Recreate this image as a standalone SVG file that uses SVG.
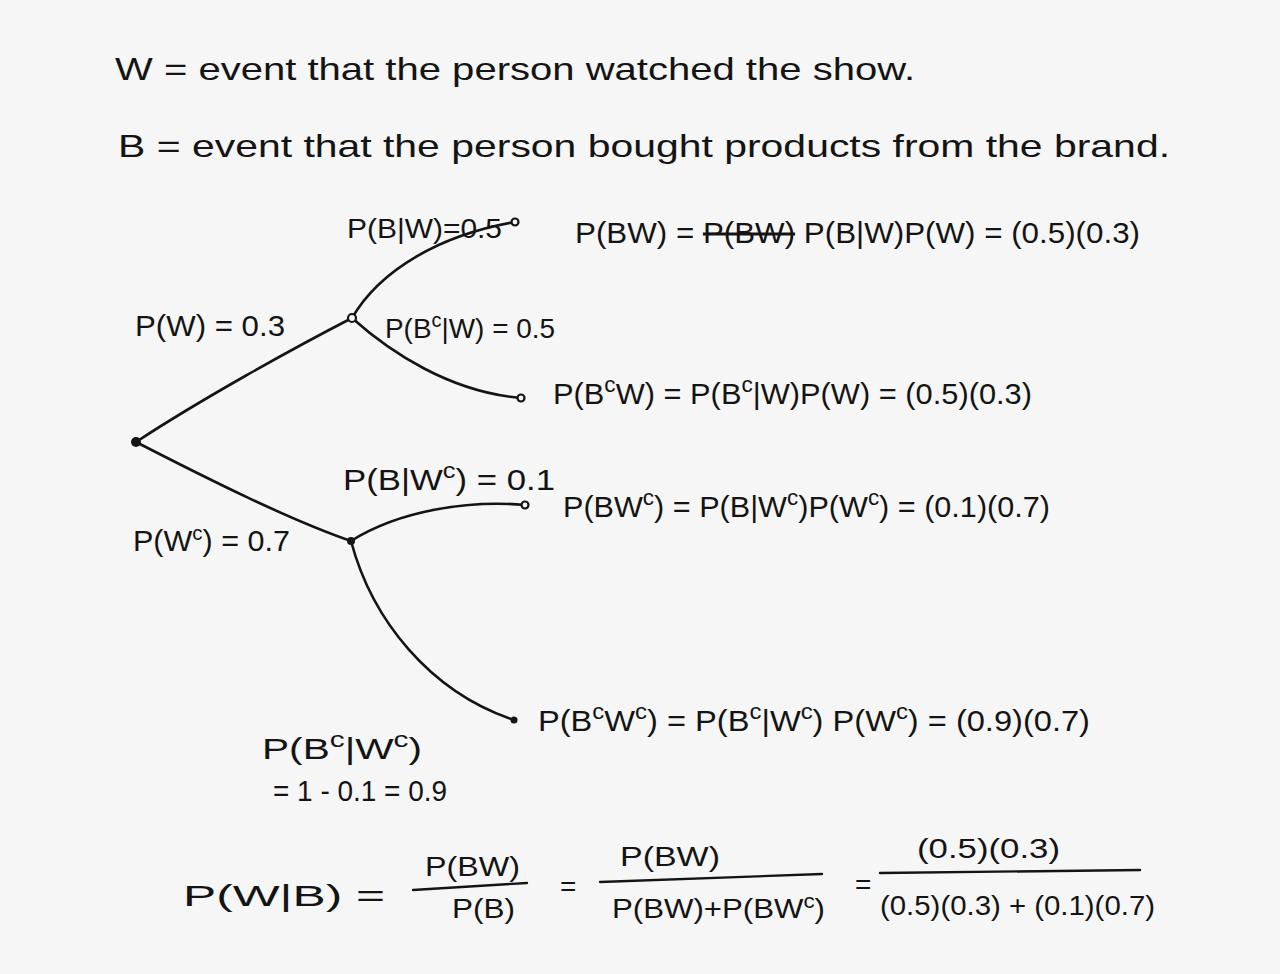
<svg xmlns="http://www.w3.org/2000/svg" width="1280" height="974" viewBox="0 0 1280 974">
<style>
text{font-family:"Liberation Sans","DejaVu Sans",sans-serif;fill:#141414;font-size:30px}
.h{font-size:32px}
.s{font-size:28px}
.e{fill:none;stroke:#141414;stroke-width:2.6;stroke-linecap:round}
.dot{fill:#141414}
.hol{fill:#f6f6f6;stroke:#141414;stroke-width:2.2}
.bar{stroke:#141414;stroke-width:2.4;stroke-linecap:round}
</style>
<rect width="1280" height="974" fill="#f6f6f6"/>
<g id="definitions">
<text class="h" x="115" y="80" textLength="800" lengthAdjust="spacingAndGlyphs">W = event that the person watched the show.</text>
<text class="h" x="118" y="157" textLength="1052" lengthAdjust="spacingAndGlyphs">B = event that the person bought products from the brand.</text>
</g>
<g id="connectors">
<path class="e" d="M136,442 C200,400 290,350 352,318"/>
<path class="e" d="M352,318 C380,270 440,235 515,222"/>
<path class="e" d="M352,318 C390,352 450,392 521,398"/>
<path class="e" d="M136,442 C210,480 290,520 351,541"/>
<path class="e" d="M351,541 C400,510 470,500 525,505"/>
<path class="e" d="M351,541 C372,620 430,692 514,720"/>
</g>
<g id="root"><circle class="dot" cx="136" cy="442" r="5"/></g>
<g id="node-W"><circle class="hol" cx="352" cy="318" r="4"/>
<text x="135" y="336" textLength="150" lengthAdjust="spacingAndGlyphs">P(W) = 0.3</text></g>
<g id="node-Wc"><circle class="dot" cx="351" cy="541" r="4"/>
<text x="133" y="551" textLength="157" lengthAdjust="spacingAndGlyphs">P(W<tspan dy="-11" font-size="20">c</tspan><tspan dy="11">) = 0.7</tspan></text></g>
<g id="leaf-BW"><circle class="hol" cx="515" cy="222" r="3.5"/>
<text class="s" x="347" y="238" textLength="155" lengthAdjust="spacingAndGlyphs">P(B|W)=0.5</text>
<text x="575" y="243" textLength="565" lengthAdjust="spacingAndGlyphs">P(BW) = <tspan text-decoration="line-through">P(BW)</tspan> P(B|W)P(W) = (0.5)(0.3)</text></g>
<g id="leaf-BcW"><circle class="hol" cx="521" cy="398" r="3.5"/>
<text class="s" x="385" y="338" textLength="170" lengthAdjust="spacingAndGlyphs">P(B<tspan dy="-11" font-size="20">c</tspan><tspan dy="11">|W) = 0.5</tspan></text>
<text x="553" y="404" textLength="479" lengthAdjust="spacingAndGlyphs">P(B<tspan dy="-12" font-size="22">c</tspan><tspan dy="12">W) = P(B</tspan><tspan dy="-12" font-size="22">c</tspan><tspan dy="12">|W)P(W) = (0.5)(0.3)</tspan></text></g>
<g id="leaf-BWc"><circle class="hol" cx="525" cy="505" r="3.5"/>
<text x="343" y="490" textLength="212" lengthAdjust="spacingAndGlyphs">P(B|W<tspan dy="-12" font-size="22">c</tspan><tspan dy="12">) = 0.1</tspan></text>
<text x="563" y="517" textLength="487" lengthAdjust="spacingAndGlyphs">P(BW<tspan dy="-12" font-size="22">c</tspan><tspan dy="12">) = P(B|W</tspan><tspan dy="-12" font-size="22">c</tspan><tspan dy="12">)P(W</tspan><tspan dy="-12" font-size="22">c</tspan><tspan dy="12">) = (0.1)(0.7)</tspan></text></g>
<g id="leaf-BcWc"><circle class="dot" cx="514" cy="720" r="3.5"/>
<text x="538" y="731" textLength="552" lengthAdjust="spacingAndGlyphs">P(B<tspan dy="-12" font-size="22">c</tspan><tspan dy="12">W</tspan><tspan dy="-12" font-size="22">c</tspan><tspan dy="12">) = P(B</tspan><tspan dy="-12" font-size="22">c</tspan><tspan dy="12">|W</tspan><tspan dy="-12" font-size="22">c</tspan><tspan dy="12">) P(W</tspan><tspan dy="-12" font-size="22">c</tspan><tspan dy="12">) = (0.9)(0.7)</tspan></text>
<text x="262" y="759" textLength="160" lengthAdjust="spacingAndGlyphs">P(B<tspan dy="-12" font-size="22">c</tspan><tspan dy="12">|W</tspan><tspan dy="-12" font-size="22">c</tspan><tspan dy="12">)</tspan></text>
<text x="273" y="801" textLength="174" lengthAdjust="spacingAndGlyphs">= 1 - 0.1 = 0.9</text></g>
<g id="bayes">
<text x="183" y="906" textLength="202" lengthAdjust="spacingAndGlyphs">P(W|B)  =</text>
<text class="s" x="425" y="876" textLength="95" lengthAdjust="spacingAndGlyphs">P(BW)</text>
<line class="bar" x1="413" y1="890" x2="527" y2="883"/>
<text class="s" x="452" y="918" textLength="63" lengthAdjust="spacingAndGlyphs">P(B)</text>
<text class="s" x="560" y="896">=</text>
<text class="s" x="620" y="866" textLength="100" lengthAdjust="spacingAndGlyphs">P(BW)</text>
<line class="bar" x1="600" y1="882" x2="822" y2="874"/>
<text class="s" x="612" y="918" textLength="213" lengthAdjust="spacingAndGlyphs">P(BW)+P(BW<tspan dy="-10" font-size="20">c</tspan><tspan dy="10">)</tspan></text>
<text class="s" x="855" y="894">=</text>
<text class="s" x="917" y="858" textLength="143" lengthAdjust="spacingAndGlyphs">(0.5)(0.3)</text>
<line class="bar" x1="880" y1="873" x2="1140" y2="870"/>
<text class="s" x="880" y="915" textLength="275" lengthAdjust="spacingAndGlyphs">(0.5)(0.3) + (0.1)(0.7)</text>
</g>
</svg>
